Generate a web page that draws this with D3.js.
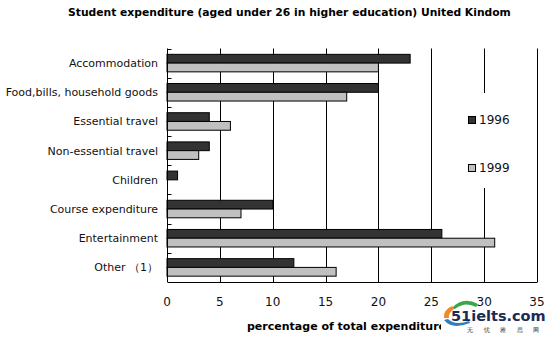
<!DOCTYPE html>
<html><head><meta charset="utf-8">
<script src="https://cdn.jsdelivr.net/npm/d3@7/dist/d3.min.js"></script>
<style>
html,body{margin:0;padding:0;background:#fff;}
svg{display:block;}
text{font-family:"DejaVu Sans",Verdana,sans-serif;}
</style></head>
<body>
<svg id="chart" width="554" height="339"></svg>
<script>
const categories = ["Accommodation","Food,bills, household goods","Essential travel","Non-essential travel","Children","Course expenditure","Entertainment","Other \uFF081\uFF09"];
const series = ["1996","1999"];
const values1996 = [23,20,4,4,1,10,26,12];
const values1999 = [20,17,6,3,0,7,31,16];
const xTicks = [0,5,10,15,20,25,30,35];
const title = "Student expenditure (aged under 26 in higher education) United Kindom";
const xTitle = "percentage of total expenditure";
const colors = ["#333333","#c0c0c0"];

const svg = d3.select("#chart");
const x = d3.scaleLinear().domain([0,35]).range([167,537]);
const y = d3.scaleBand().domain(categories).range([48.5,282]).paddingInner(0.4).paddingOuter(0.2);
const ySub = d3.scaleBand().domain(series).range([0,y.bandwidth()]);
const color = d3.scaleOrdinal().domain(series).range(colors);

// title
svg.append("text").attr("x",68).attr("y",16).attr("font-weight","bold").attr("font-size",10.75)
  .attr("fill","#000").text(title);

// gridlines
svg.append("g").selectAll("line").data(xTicks.filter(d=>d>0)).join("line")
  .attr("x1",d=>Math.round(x(d))+0.5).attr("x2",d=>Math.round(x(d))+0.5)
  .attr("y1",48.5).attr("y2",282).attr("stroke","#000").attr("stroke-width",1);

// bars
const rows = categories.map((c,i)=>({cat:c, vals:[{s:"1996",v:values1996[i]},{s:"1999",v:values1999[i]}]}));
const g = svg.append("g").selectAll("g").data(rows).join("g")
  .attr("transform",d=>`translate(0,${y(d.cat)})`);
g.selectAll("rect").data(d=>d.vals.filter(o=>o.v>0)).join("rect")
  .attr("x",x(0)).attr("y",d=>ySub(d.s))
  .attr("width",d=>x(d.v)-x(0)).attr("height",ySub.bandwidth())
  .attr("fill",d=>color(d.s)).attr("stroke","#000").attr("stroke-width",1);

// y axis line and ticks
const x0 = Math.round(x(0))+0.5;
svg.append("line").attr("x1",x0).attr("x2",x0).attr("y1",48.5).attr("y2",282).attr("stroke","#000");
const bounds = categories.map(c=>y(c)-y.step()*y.paddingOuter());
svg.append("g").selectAll("line").data(bounds).join("line")
  .attr("x1",x0).attr("x2",x0+4).attr("y1",d=>Math.round(d)+0.5).attr("y2",d=>Math.round(d)+0.5)
  .attr("stroke","#000");
// x axis line
svg.append("line").attr("x1",x0).attr("x2",537.5).attr("y1",282.5).attr("y2",282.5).attr("stroke","#000");

// category labels
svg.append("g").selectAll("text").data(categories).join("text")
  .attr("x",158).attr("y",d=>y(d)+y.bandwidth()/2).attr("dy","0.35em")
  .attr("text-anchor","end").attr("font-size",11).attr("fill","#111").text(d=>d);

// x tick labels
svg.append("g").selectAll("text").data(xTicks).join("text")
  .attr("x",d=>x(d)).attr("y",306).attr("text-anchor","middle")
  .attr("font-size",12).attr("fill","#111").text(d=>d);

// x title
svg.append("text").attr("x",247).attr("y",330).attr("font-weight","bold").attr("font-size",11)
  .attr("fill","#000").text(xTitle);

// legend
svg.append("rect").attr("x",463).attr("y",93).attr("width",55).attr("height",95).attr("fill","#fff");
const leg = svg.append("g").selectAll("g").data(series).join("g")
  .attr("transform",(d,i)=>`translate(468,${116+i*48})`);
leg.append("rect").attr("x",0.5).attr("y",0.5).attr("width",7).attr("height",7)
  .attr("fill",d=>color(d)).attr("stroke","#000");
leg.append("text").attr("x",11).attr("y",8).attr("font-size",12).attr("fill","#111").text(d=>d);

// watermark logo
const logo = svg.append("g");
logo.append("rect").attr("x",441).attr("y",309).attr("width",113).attr("height",30).attr("fill","#fff");
logo.append("path").attr("d","M452,308 Q463,296 478,304 L476,307 Q465,301 455,309 Z").attr("fill","#3aa64a");
logo.append("path").attr("d","M444,318 Q443,310 452,306 L454,309 Q448,313 449,318 Z").attr("fill","#f08a24");
logo.append("path").attr("d","M444,320 Q452,330 470,323 L469,321 Q455,326 448,319 Z").attr("fill","#2d7fc1");
logo.append("text").attr("x",451).attr("y",321).attr("font-family","Arial, 'Liberation Sans', sans-serif")
  .attr("font-weight","bold").attr("font-size",14.5).attr("fill","#1c2b55").text("51ielts.com");
logo.append("text").attr("x",467).attr("y",331.5).attr("font-family","'Noto Sans CJK SC',sans-serif")
  .attr("font-size",5.5).attr("letter-spacing",10.5).attr("fill","#333").text("无忧雅思网");
</script>
</body></html>
